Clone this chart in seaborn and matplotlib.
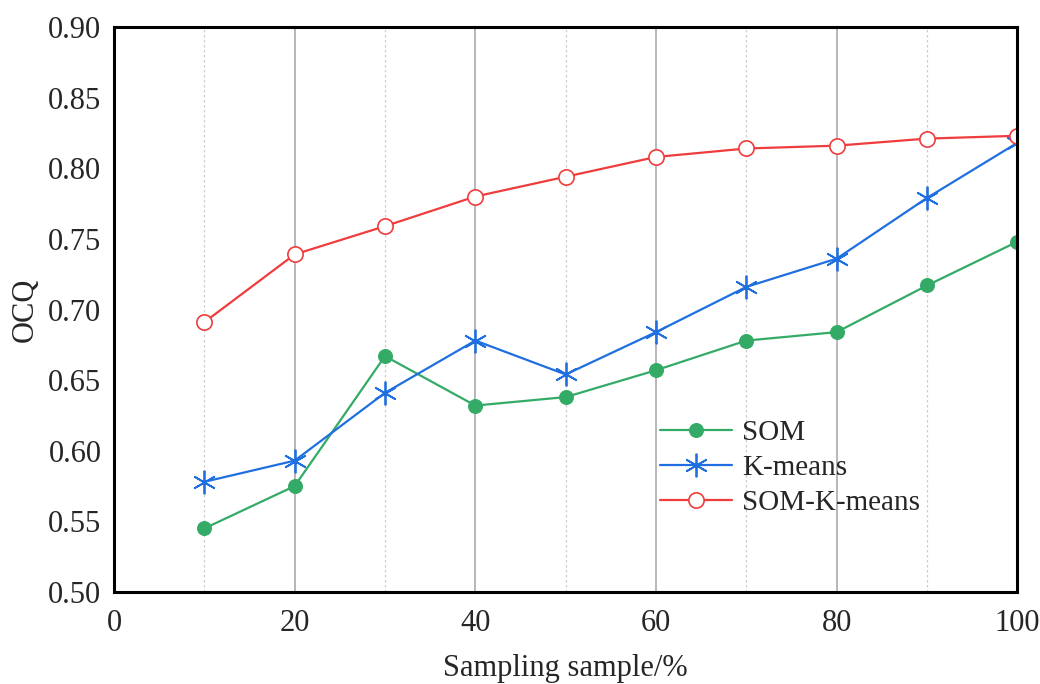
import pandas as pd
import matplotlib.pyplot as plt
import seaborn as sns
from matplotlib.ticker import MultipleLocator

# Values
sampling = [10, 20, 30, 40, 50, 60, 70, 80, 90, 100]
som = [0.545, 0.575, 0.667, 0.632, 0.638, 0.657, 0.678, 0.684, 0.717, 0.748]
kmeans = [0.578, 0.593, 0.641, 0.678, 0.654, 0.684, 0.716, 0.736, 0.779, 0.818]
som_kmeans = [0.691, 0.739, 0.759, 0.780, 0.794, 0.808, 0.814, 0.816, 0.821, 0.823]

df = pd.DataFrame({'x': sampling, 'SOM': som, 'K-means': kmeans, 'SOM-K-means': som_kmeans})

sns.set_style('white')
plt.rcParams['font.family'] = ['Liberation Serif', 'DejaVu Serif']

fig = plt.figure(figsize=(10.4, 6.84), dpi=100)
ax = fig.add_axes([0.1096, 0.1345, 0.8686, 0.826])

sns.lineplot(data=df, x='x', y='SOM', ax=ax, color='#33ab66', lw=1.6,
             marker='o', markersize=10, markeredgecolor='#33ab66', label='SOM')
sns.lineplot(data=df, x='x', y='K-means', ax=ax, color='#1f6fe0', lw=1.6,
             marker=(6, 2, 0), markersize=17, markeredgewidth=1.3,
             markeredgecolor='#1f6fe0', label='K-means')
sns.lineplot(data=df, x='x', y='SOM-K-means', ax=ax, color='#f03c3c', lw=1.6,
             marker='o', markersize=11, markerfacecolor='white',
             markeredgecolor='#f03c3c', markeredgewidth=1.2, label='SOM-K-means')

ax.set_xlim(0, 100)
ax.set_ylim(0.50, 0.90)
ax.xaxis.set_major_locator(MultipleLocator(20))
ax.xaxis.set_minor_locator(MultipleLocator(10))
ax.yaxis.set_major_locator(MultipleLocator(0.05))
ax.yaxis.set_minor_locator(MultipleLocator(0.025))
ax.yaxis.set_major_formatter(plt.FormatStrFormatter('%.2f'))

ax.grid(True, which='major', axis='x', color='#aaaaaa', lw=1.2, ls='-')
ax.grid(True, which='minor', axis='x', color='#cccccc', lw=0.9, ls=(0, (2, 2)))
ax.set_axisbelow(True)

ax.tick_params(axis='both', which='major', direction='in', length=8, width=2.2,
               labelsize=22, top=False, right=False)
ax.tick_params(axis='x', which='major', pad=12)
ax.tick_params(axis='y', which='major', pad=9)
ax.tick_params(axis='both', which='minor', direction='in', length=4.5, width=1.8,
               top=False, right=False)
for s in ax.spines.values():
    s.set_color('black')
    s.set_linewidth(2.2)

ax.set_xlabel('Sampling sample/%', fontsize=22, labelpad=12)
ax.set_ylabel('OCQ', fontsize=22, labelpad=6)

ax.legend(loc='upper left', bbox_to_anchor=(0.592, 0.326), frameon=False,
          fontsize=21, handlelength=2.45, handletextpad=0.35, labelspacing=0.3,
          borderaxespad=0)

fig.savefig('out.png', dpi=100)
